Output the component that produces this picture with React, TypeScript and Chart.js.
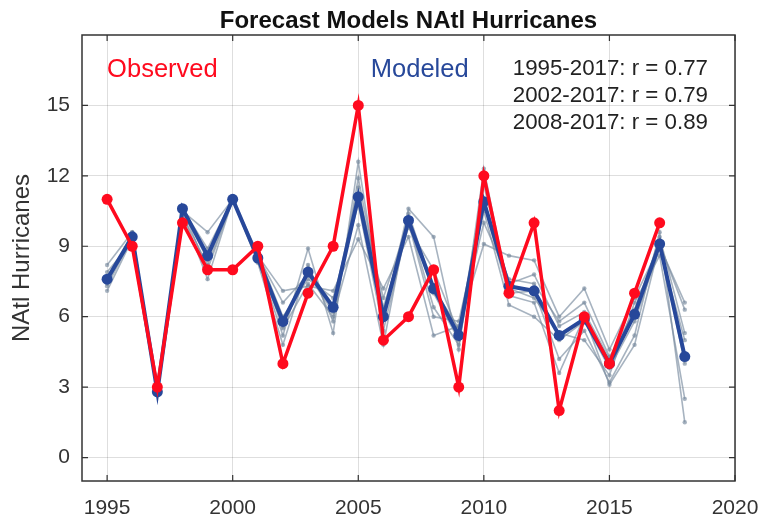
import React, { useEffect, useRef } from "react";
import { Chart, registerables } from "chart.js";

Chart.register(...registerables);

const years = [1995, 1996, 1997, 1998, 1999, 2000, 2001, 2002, 2003, 2004, 2005, 2006, 2007, 2008, 2009, 2010, 2011, 2012, 2013, 2014, 2015, 2016, 2017, 2018];
const observed = [11, 9, 3, 10, 8, 8, 9, 4, 7, 9, 15, 5, 6, 8, 3, 12, 7, 10, 2, 6, 4, 7, 10];
const modeled = [7.6, 9.4, 2.8, 10.6, 8.6, 11.0, 8.5, 5.8, 7.9, 6.4, 11.1, 6.0, 10.1, 7.2, 5.2, 10.9, 7.3, 7.1, 5.2, 5.9, 4.0, 6.1, 9.1, 4.3];
const member1 = [8.2, 9.6, 2.8, 10.5, 9.6, 11.0, 8.6, 7.1, 7.3, 7.1, 9.3, 7.2, 9.4, 5.2, 5.6, 9.1, 8.6, 8.4, 6.0, 7.2, 4.6, 6.8, 9.0, 6.6];
const member2 = [7.1, 9.3, 2.8, 10.4, 7.6, 11.0, 8.4, 5.2, 8.9, 5.3, 12.6, 5.9, 10.6, 9.4, 4.6, 12.3, 7.0, 7.1, 4.2, 5.4, 3.2, 5.2, 9.6, 1.5];
const member3 = [7.6, 9.4, 2.8, 10.7, 8.5, 11.0, 8.5, 5.6, 8.0, 6.5, 11.5, 6.2, 10.2, 7.0, 5.0, 11.0, 7.4, 7.8, 5.6, 6.2, 4.2, 6.3, 9.2, 4.0];
const member4 = [7.5, 9.5, 2.8, 10.6, 8.9, 11.0, 8.7, 6.0, 7.6, 6.8, 10.8, 5.4, 10.0, 6.0, 5.8, 10.5, 6.5, 6.0, 5.0, 5.8, 3.8, 5.8, 8.9, 5.0];
const member5 = [7.9, 9.2, 2.8, 10.3, 8.2, 11.0, 8.3, 4.8, 8.2, 5.8, 11.9, 6.4, 9.8, 8.0, 5.3, 11.6, 7.2, 6.8, 5.3, 5.0, 3.5, 6.6, 8.6, 2.5];
const member6 = [7.4, 9.6, 2.8, 10.6, 8.0, 11.0, 8.5, 5.5, 7.4, 6.0, 9.9, 4.8, 10.4, 7.2, 5.5, 10.0, 7.6, 7.4, 5.8, 6.6, 4.3, 6.0, 9.4, 5.3];
const member7 = [7.3, 9.4, 2.8, 10.6, 8.4, 11.0, 8.6, 6.6, 7.8, 6.2, 11.2, 6.8, 10.1, 6.4, 4.8, 10.8, 6.9, 6.6, 3.6, 6.0, 3.1, 4.8, 9.1, 6.3];
const members = [member1, member2, member3, member4, member5, member6, member7];

const xTicks = [1995, 2000, 2005, 2010, 2015, 2020];
const yTicks = [0, 3, 6, 9, 12, 15];
const corrLines = ["1995-2017: r = 0.77", "2002-2017: r = 0.79", "2008-2017: r = 0.89"];
const titleText = "Forecast Models NAtl Hurricanes";

const RED = "#ff0a1e";
const BLUE = "#27489a";
const GRAY = "rgba(120,138,158,0.65)";
const FONT = "'Liberation Sans', Arial, sans-serif";

function toXY(vals: number[]) {
  return vals.map((v, i) => ({ x: years[i], y: v }));
}

const textPlugin = {
  id: "annot",
  afterDraw(chart: any) {
    const { ctx, chartArea, scales } = chart;
    const xs = scales.x;
    const ys = scales.y;
    ctx.save();
    // box
    ctx.strokeStyle = "#333";
    ctx.lineWidth = 1.5;
    ctx.strokeRect(chartArea.left, chartArea.top, chartArea.right - chartArea.left, chartArea.bottom - chartArea.top);
    // inward ticks
    ctx.lineWidth = 1.2;
    ctx.beginPath();
    xTicks.forEach((t) => {
      const px = xs.getPixelForValue(t);
      ctx.moveTo(px, chartArea.bottom);
      ctx.lineTo(px, chartArea.bottom - 6);
      ctx.moveTo(px, chartArea.top);
      ctx.lineTo(px, chartArea.top + 6);
    });
    yTicks.forEach((t) => {
      const py = ys.getPixelForValue(t);
      ctx.moveTo(chartArea.left, py);
      ctx.lineTo(chartArea.left + 6, py);
      ctx.moveTo(chartArea.right, py);
      ctx.lineTo(chartArea.right - 6, py);
    });
    ctx.stroke();
    // title
    ctx.textBaseline = "alphabetic";
    ctx.textAlign = "center";
    ctx.font = "bold 24px " + FONT;
    ctx.fillStyle = "#111";
    ctx.fillText(titleText, (chartArea.left + chartArea.right) / 2, chartArea.top - 7);
    // labels
    ctx.textBaseline = "middle";
    ctx.textAlign = "left";
    ctx.font = "25.5px " + FONT;
    ctx.fillStyle = RED;
    ctx.fillText("Observed", xs.getPixelForValue(1995), ys.getPixelForValue(16.5));
    ctx.fillStyle = BLUE;
    ctx.fillText("Modeled", xs.getPixelForValue(2005.5), ys.getPixelForValue(16.5));
    ctx.font = "22.3px " + FONT;
    ctx.fillStyle = "#222";
    const yy = [16.55, 15.4, 14.25];
    corrLines.forEach((s, i) => {
      ctx.fillText(s, xs.getPixelForValue(2011.15), ys.getPixelForValue(yy[i]));
    });
    ctx.restore();
  },
};

export default function App() {
  const ref = useRef<HTMLCanvasElement>(null);
  useEffect(() => {
    if (!ref.current) return;
    const datasets: any[] = [
      {
        label: "Observed",
        data: toXY(observed),
        borderColor: RED,
        backgroundColor: RED,
        borderWidth: 3.5,
        pointRadius: 5.5,
        pointBorderWidth: 0,
        order: 0,
      },
      {
        label: "Modeled",
        data: toXY(modeled),
        borderColor: BLUE,
        backgroundColor: BLUE,
        borderWidth: 4,
        pointRadius: 5.5,
        pointBorderWidth: 0,
        order: 1,
      },
      ...members.map((m, i) => ({
        label: "Member " + (i + 1),
        data: toXY(m),
        borderColor: GRAY,
        backgroundColor: GRAY,
        borderWidth: 1.6,
        pointRadius: 2.2,
        pointBorderWidth: 0,
        order: 2,
      })),
    ];
    const chart = new Chart(ref.current, {
      type: "line",
      data: { datasets },
      options: {
        animation: false,
        responsive: true,
        maintainAspectRatio: false,
        layout: { padding: { left: 0, right: 25, top: 35, bottom: 0 } },
        plugins: {
          legend: { display: false },
          tooltip: { enabled: false },
          title: { display: false },
        },
        scales: {
          x: {
            type: "linear",
            min: 1994,
            max: 2020,
            afterBuildTicks: (s: any) => {
              s.ticks = xTicks.map((v) => ({ value: v }));
            },
            afterFit: (s: any) => {
              s.height = 40;
              s.paddingLeft = 0;
              s.paddingRight = 0;
            },
            ticks: {
              color: "#333",
              font: { family: FONT, size: 21 },
              padding: 15,
              maxRotation: 0,
              callback: (v: any) => String(v),
            },
            grid: { color: "rgba(0,0,0,0.13)", drawTicks: false },
            border: { display: false },
          },
          y: {
            type: "linear",
            min: -1,
            max: 18,
            afterBuildTicks: (s: any) => {
              s.ticks = yTicks.map((v) => ({ value: v }));
            },
            afterFit: (s: any) => {
              s.width = 82;
              s.paddingTop = 0;
              s.paddingBottom = 0;
            },
            ticks: {
              color: "#333",
              font: { family: FONT, size: 21 },
              padding: 12,
            },
            grid: { color: "rgba(0,0,0,0.13)", drawTicks: false },
            border: { display: false },
            title: {
              display: true,
              text: "NAtl Hurricanes",
              color: "#333",
              font: { family: FONT, size: 24, lineHeight: 1.2 },
              padding: { top: 8, bottom: 0 },
            },
          },
        },
      },
      plugins: [textPlugin],
    });
    return () => chart.destroy();
  }, []);
  return (
    <div style={{ position: "fixed", left: 0, top: 0, width: 760, height: 521, background: "#fff" }}>
      <canvas ref={ref} />
    </div>
  );
}
